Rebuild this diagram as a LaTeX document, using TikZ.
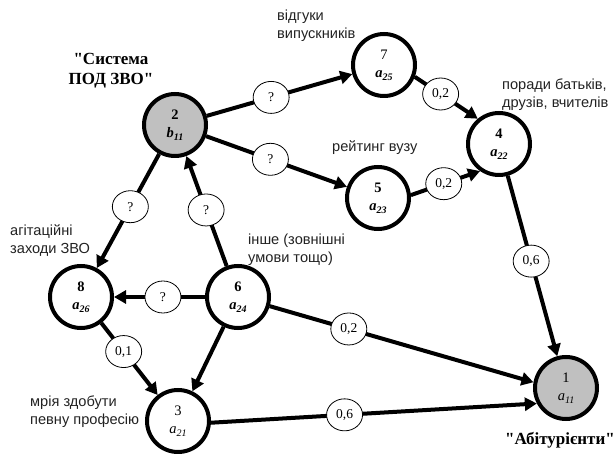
\documentclass[tikz,border=0pt]{standalone}
\usepackage{fontspec}
\setmainfont{Liberation Serif}[Ligatures=TeXOff]
\newfontfamily\labfont{Liberation Sans}
\usetikzlibrary{arrows.meta,shapes.geometric,calc}
\definecolor{hubgray}{HTML}{C0C0C0}
\definecolor{notegray}{HTML}{222222}
\newcommand\nsub[1]{\raisebox{-0.45ex}{\fontsize{10}{10}\selectfont #1}}
\newcommand\sq{\symbol{34}}
\tikzset{
  vert/.style={circle, draw, line width=4pt, minimum size=62pt, inner sep=0pt,
    outer sep=2pt, align=center, fill=white, font=\fontsize{14.5}{18}\selectfont},
  hub/.style={vert, fill=hubgray},
  wlab/.style={ellipse, draw, line width=0.8pt, fill=white, minimum width=36pt,
    minimum height=32pt, inner sep=0pt, font=\fontsize{13.5}{13.5}\selectfont},
  link/.style={line width=4pt, -{Triangle[length=12pt,width=13pt]}},
  note/.style={font=\labfont\fontsize{14.6}{18}\selectfont, text=notegray,
    align=left, inner sep=0pt, anchor=west},
  headline/.style={font=\bfseries\fontsize{17}{20}\selectfont, align=center, inner sep=0pt}
}
\begin{document}
\begin{tikzpicture}[x=1pt,y=-1pt]
\useasboundingbox (0,0) rectangle (614,454);
% main vertices
\node[hub]  (n2) at (175,125) {\textbf{2}\\{\bfseries\itshape b\nsub{11}}};
\node[vert] (n7) at (384,65)  {7\\{\bfseries\itshape a\nsub{25}}};
\node[vert] (n4) at (499,144) {\textbf{4}\\{\bfseries\itshape a\nsub{22}}};
\node[vert] (n5) at (378,198) {\textbf{5}\\{\bfseries\itshape a\nsub{23}}};
\node[vert] (n8) at (81,297)  {\textbf{8}\\{\bfseries\itshape a\nsub{26}}};
\node[vert] (n6) at (238,297) {\textbf{6}\\{\bfseries\itshape a\nsub{24}}};
\node[vert] (n3) at (178,421) {3\\{\itshape a\nsub{21}}};
\node[hub]  (n1) at (566,388) {1\\{\itshape a\nsub{11}}};
% connectors
\draw[link] (n2) -- (n7);
\draw[link] (n2) -- (n5);
\draw[link] (n2) -- (n8);
\draw[link] (n6) -- (n2);
\draw[link] (n6) -- (n8);
\draw[link] (n6) -- (n3);
\draw[link] (n8) -- (n3);
\draw[link] (n6) -- (n1.170);
\draw[link] (n3.-3) -- (n1.208);
\draw[link] (n7.-21) -- (n4.130);
\draw[link] (n5.5) -- (n4.235);
\draw[link] (n4) -- (n1);
% weight labels
\node[wlab] (q27) at ($(n2)!0.46!(n7)$) {?};
\node[wlab] (q25) at ($(n2)!0.47!(n5)$) {?};
\node[wlab] (q28) at ($(n2)!0.475!(n8)$) {?};
\node[wlab] (q62) at ($(n6)!0.506!(n2)$) {?};
\node[wlab] (q68) at ($(n6)!0.478!(n8)$) {?};
\node[wlab] (w83) at ($(n8)!0.44!(n3)$) {0,1};
\node[wlab] (w41) at ($(n4)!0.48!(n1)$) {0,6};
\node[wlab] (w61) at ($(n6)!0.375!(n1.170)$) {0,2};
\node[wlab] (w31) at ($(n3.-3)!0.41!(n1.208)$) {0,6};
\node[wlab] (w74) at ($(n7.-21)!0.41!(n4.130)$) {0,2};
\node[wlab] (w54) at ($(n5.5)!0.475!(n4.235)$) {0,2};
% notes
\node[note] (t7) at (277,26) {відгуки\\випускників};
\node[note] (t4) at (502,95) {поради батьків,\\друзів, вчителів};
\node[note] (t5) at (332,148) {рейтинг вузу};
\node[note] (t8) at (10,241) {агітаційні\\заходи ЗВО};
\node[note] (t6) at (248,250) {інше (зовнішні\\умови тощо)};
\node[note] (t3) at (30,412) {мрія здобути\\певну професію};
\node[headline] (h2) at (111,71) {\sq Система\\ПОД ЗВО\sq};
\node[headline] (h1) at (560,440) {\sq Абітурієнти\sq};
\end{tikzpicture}
\end{document}
